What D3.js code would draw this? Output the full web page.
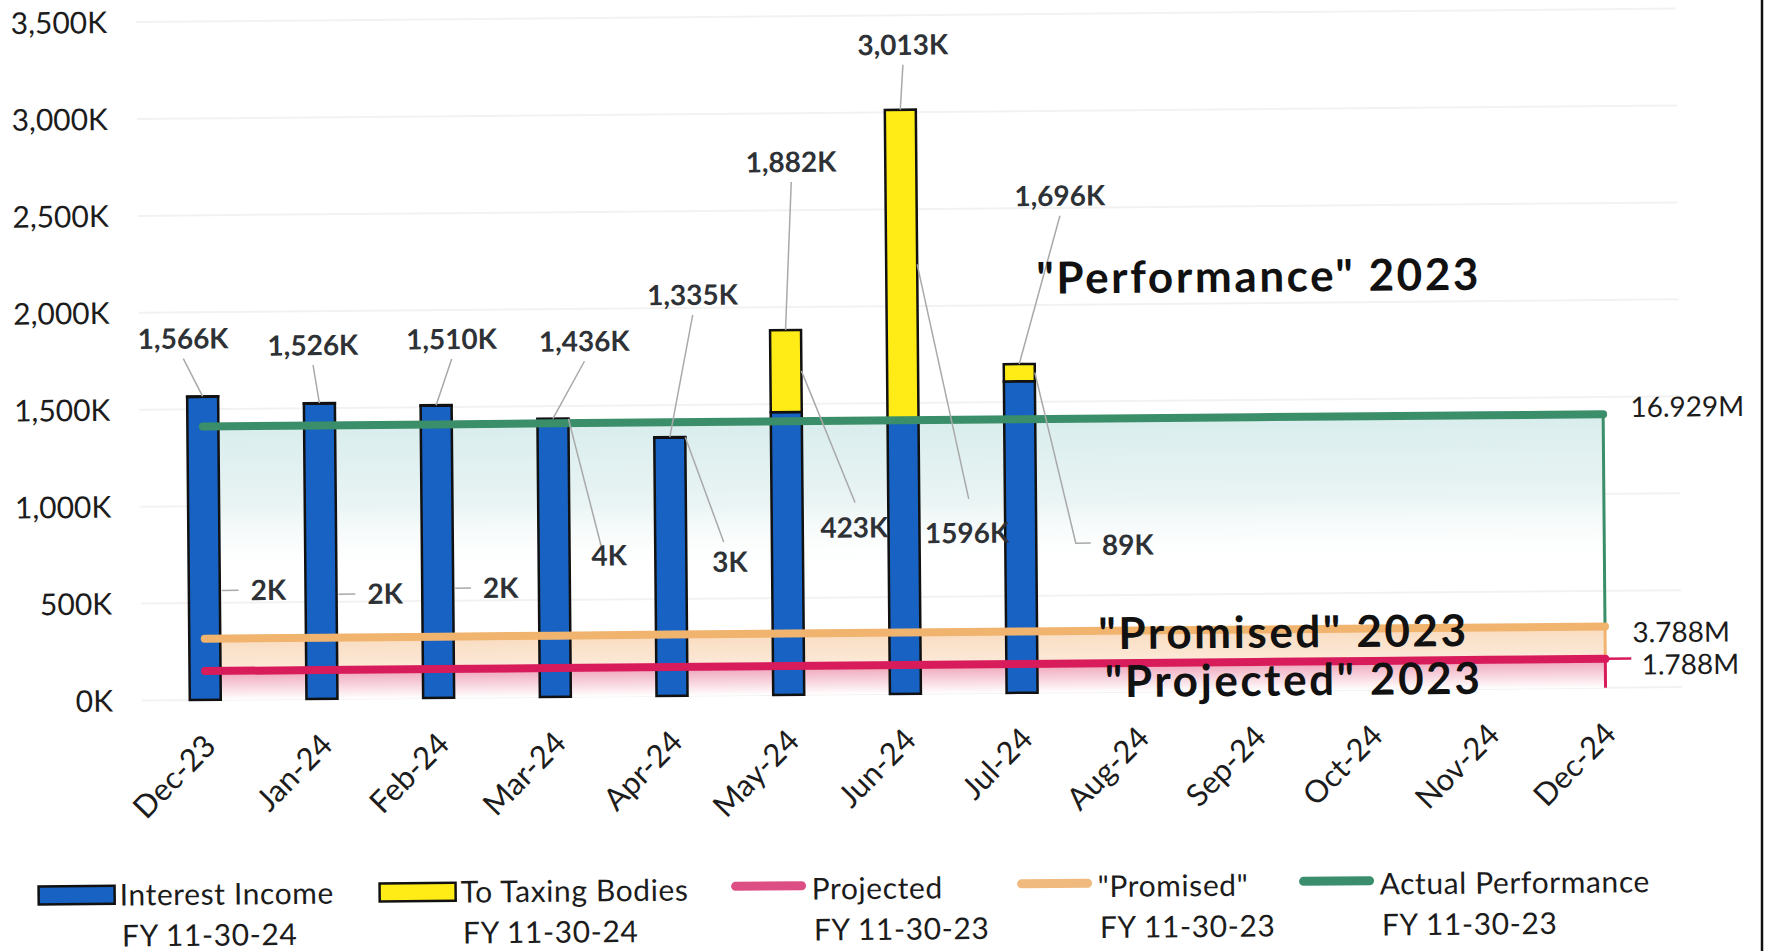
<!DOCTYPE html>
<html>
<head>
<meta charset="utf-8">
<script src="https://cdn.jsdelivr.net/npm/d3@7"></script>
<style>
  html, body { margin: 0; padding: 0; background: #fff; }
  svg { display: block; font-family: Lato, "Open Sans", sans-serif; }
</style>
</head>
<body>
<svg id="chart" width="1773" height="951"></svg>
<script>
// values in thousands of dollars
const months = ['Dec-23', 'Jan-24', 'Feb-24', 'Mar-24', 'Apr-24', 'May-24', 'Jun-24',
  'Jul-24', 'Aug-24', 'Sep-24', 'Oct-24', 'Nov-24', 'Dec-24'];
const interestIncome = [1564, 1524, 1508, 1432, 1332, 1459, 1417, 1607];
const toTaxingBodies = [2, 2, 2, 4, 3, 423, 1596, 89];
const projected = [149, 149, 149, 149, 149, 149, 149, 149, 149, 149, 149, 149, 149];
const promised = [316, 316, 316, 316, 316, 316, 316, 316, 316, 316, 316, 316, 316];
const actualPerf = [1411, 1411, 1411, 1411, 1411, 1411, 1411, 1411, 1411, 1411, 1411, 1411, 1411];
const lineTotals = ['1.788M', '3.788M', '16.929M'];
const yTicks = [0, 500, 1000, 1500, 2000, 2500, 3000, 3500];

// hand-placed data label spots (like dragged Excel labels)
const topLabelOffsets = [[-19, -58], [-6, -58], [16, -66], [32, -77], [24, -142], [7, -168], [3, -65], [42, -168]];
const lowerLabelSpots = [
  {dx: 64, dy: 194, dash: true},
  {dx: 64, dy: 191, dash: true},
  {dx: 63, dy: 183, dash: true},
  {dx: 55, dy: 137, end: [-8, -10]},
  {dx: 59, dy: 125, end: [-6, -20]},
  {dx: 67, dy: 157, end: [1, -25]},
  {dx: 63, dy: 269, end: [2, -34]},
  {dx: 107, dy: 173, end: [-52, -2], tail: [-37, -2]}
];

const svg = d3.select('#chart');
// the source is a slightly tilted scan
const root = svg.append('g').attr('transform', 'rotate(-0.5,886,475)');

const x = d3.scaleBand().domain(months).range([145, 1662]);
const cx = m => x(m) + x.bandwidth() / 2;
const y = d3.scaleLinear().domain([0, 3500]).range([694, 15.5]);
const barW = 31;
const fmtK = d3.format(',');

// gradients
const defs = svg.append('defs');
function grad(id, stops) {
  let g = defs.append('linearGradient').attr('id', id)
    .attr('x1', 0).attr('y1', 0).attr('x2', 0).attr('y2', 1);
  stops.forEach(s => g.append('stop').attr('offset', s[0]).attr('stop-color', s[1]).attr('stop-opacity', s[2]));
}
grad('gActual', [[0, '#d9eded', 1], [0.3, '#eaf4f4', 1], [0.55, '#ffffff', 0]]);
grad('gPromised', [[0, '#f9dcc0', 1], [1, '#fff7f1', 1]]);
grad('gProjected', [[0, '#eea2b8', 1], [0.85, '#fdf1f4', 1], [1, '#ffffff', 1]]);

// gridlines
root.selectAll('line.grid')
  .data(yTicks)
  .enter().append('line')
  .attr('class', 'grid')
  .attr('x1', 140).attr('x2', 1680)
  .attr('y1', d => y(d)).attr('y2', d => y(d))
  .attr('stroke', '#f2f2f2')
  .attr('stroke-width', 2);

// y axis labels
root.selectAll('text.ytick')
  .data(yTicks)
  .enter().append('text')
  .attr('class', 'ytick')
  .attr('x', 111)
  .attr('y', d => y(d))
  .attr('dy', '0.36em')
  .attr('text-anchor', 'end')
  .style('font-size', '30px')
  .style('fill', '#1c1c1c')
  .text(d => fmtK(d) + 'K');

// x axis labels
root.selectAll('text.xtick')
  .data(months)
  .enter().append('text')
  .attr('class', 'xtick')
  .attr('transform', d => 'translate(' + (cx(d) + 12) + ',742) rotate(-45)')
  .attr('text-anchor', 'end')
  .style('font-size', '31px')
  .style('fill', '#1c1c1c')
  .text(d => d);

// area fills behind the bars
const lineSeries = [
  {name: 'actual', values: actualPerf, color: '#3a8e69', fill: 'url(#gActual)', total: lineTotals[2], next: promised, ldy: -7, lx: 1631},
  {name: 'promised', values: promised, color: '#f1b46e', fill: 'url(#gPromised)', total: lineTotals[1], next: projected, ldy: 6, lx: 1631},
  {name: 'projected', values: projected, color: '#d81b5a', fill: 'url(#gProjected)', total: lineTotals[0], next: null, ldy: 6, lx: 1640}
];
const area = d3.area()
  .x((d, i) => cx(months[i]))
  .y0(y(0))
  .y1(d => y(d));
root.selectAll('path.area')
  .data(lineSeries)
  .enter().append('path')
  .attr('class', 'area')
  .attr('d', d => area(d.values))
  .attr('fill', d => d.fill);

// stacked bars
const table = interestIncome.map((v, i) => ({month: months[i], interest: v, taxing: toTaxingBodies[i]}));
const stack = d3.stack().keys(['interest', 'taxing'])(table);
const barColors = {interest: '#1762c2', taxing: '#ffec17'};
root.selectAll('g.layer')
  .data(stack)
  .enter().append('g')
  .attr('class', 'layer')
  .attr('fill', d => barColors[d.key])
  .selectAll('rect')
  .data(d => d)
  .enter().append('rect')
  .attr('x', d => cx(d.data.month) - barW / 2)
  .attr('y', d => y(d[1]))
  .attr('width', barW)
  .attr('height', d => y(d[0]) - y(d[1]))
  .attr('stroke', '#111')
  .attr('stroke-width', 2.5);

// line strokes in front of the bars
const line = d3.line().x((d, i) => cx(months[i])).y(d => y(d));
const last = months[months.length - 1];
lineSeries.forEach(s => {
  let yEnd = y(s.values[s.values.length - 1]);
  let yBottom = s.next ? y(s.next[s.next.length - 1]) : y(0);
  root.append('line')
    .attr('x1', cx(last)).attr('x2', cx(last))
    .attr('y1', yEnd).attr('y2', yBottom)
    .attr('stroke', s.color).attr('stroke-width', 3);
  root.append('path')
    .attr('d', line(s.values))
    .attr('fill', 'none')
    .attr('stroke', s.color)
    .attr('stroke-width', 8)
    .attr('stroke-linecap', 'round');
  root.append('text')
    .attr('x', s.lx)
    .attr('y', yEnd + s.ldy)
    .attr('dy', '0.36em')
    .style('font-size', '28px')
    .style('fill', '#1c1c1c')
    .text(s.total);
});
root.append('line')
  .attr('x1', cx(last)).attr('x2', cx(last) + 26)
  .attr('y1', y(projected[12])).attr('y2', y(projected[12]))
  .attr('stroke', '#d81b5a').attr('stroke-width', 2.5);

// data labels with leader lines
const leaders = root.append('g')
  .attr('stroke', '#a9a9a9')
  .attr('stroke-width', 1.5)
  .attr('fill', 'none');
table.forEach((d, i) => {
  let c = cx(d.month), top = y(d.interest + d.taxing);
  let lx = c + topLabelOffsets[i][0], ly = top + topLabelOffsets[i][1];
  leaders.append('line')
    .attr('x1', lx).attr('y1', ly + 20)
    .attr('x2', c).attr('y2', top);
  root.append('text')
    .attr('x', lx).attr('y', ly).attr('dy', '0.36em')
    .attr('text-anchor', 'middle')
    .style('font-size', '28px').style('font-weight', 700)
    .style('fill', '#2e3236')
    .text(fmtK(d.interest + d.taxing) + 'K');

  let spot = lowerLabelSpots[i];
  let mid = (y(d.interest) + top) / 2;
  lx = c + spot.dx;
  ly = mid + spot.dy;
  let t = root.append('text')
    .attr('x', lx).attr('y', ly).attr('dy', '0.36em')
    .attr('text-anchor', 'middle')
    .style('font-size', '28px').style('font-weight', 700)
    .style('fill', '#2e3236')
    .text(d.taxing + 'K');
  let w = t.node().getComputedTextLength();
  if (spot.dash) {
    leaders.append('line')
      .attr('x1', c + barW / 2 + 2).attr('y1', ly)
      .attr('x2', lx - w / 2 - 12).attr('y2', ly);
  } else {
    let pts = [[c + barW / 2, mid], [lx + spot.end[0], ly + spot.end[1]]];
    if (spot.tail) pts.push([lx + spot.tail[0], ly + spot.tail[1]]);
    leaders.append('path').attr('d', d3.line()(pts));
  }
});

// annotations
const notes = [
  {text: '"Performance" 2023', x: 1038, y: 295},
  {text: '"Promised" 2023', x: 1097, y: 651},
  {text: '"Projected" 2023', x: 1103, y: 699}
];
root.selectAll('text.note')
  .data(notes)
  .enter().append('text')
  .attr('class', 'note')
  .attr('x', d => d.x).attr('y', d => d.y)
  .style('font-size', '44px').style('font-weight', 700)
  .style('letter-spacing', '2.6px')
  .style('fill', '#111')
  .text(d => d.text);

// legend
const legendItems = [
  {name: 'Interest Income', sub: 'FY 11-30-24', type: 'rect', color: '#1762c2', x: 35},
  {name: 'To Taxing Bodies', sub: 'FY 11-30-24', type: 'rect', color: '#ffec17', x: 376},
  {name: 'Projected', sub: 'FY 11-30-23', type: 'line', color: '#dd4f84', x: 727},
  {name: '"Promised"', sub: 'FY 11-30-23', type: 'line', color: '#f0b97e', x: 1013},
  {name: 'Actual Performance', sub: 'FY 11-30-23', type: 'line', color: '#3a8e6e', x: 1295}
];
const lg = root.selectAll('g.legend')
  .data(legendItems)
  .enter().append('g')
  .attr('class', 'legend')
  .attr('transform', d => 'translate(' + d.x + ',888)');
lg.filter(d => d.type === 'rect').append('rect')
  .attr('x', 0).attr('y', -9).attr('width', 76).attr('height', 18)
  .attr('fill', d => d.color).attr('stroke', '#111').attr('stroke-width', 2.5);
lg.filter(d => d.type === 'line').append('line')
  .attr('x1', 5).attr('x2', 71).attr('y1', -3).attr('y2', -3)
  .attr('stroke', d => d.color).attr('stroke-width', 9).attr('stroke-linecap', 'round');
lg.append('text')
  .attr('x', 81).attr('y', 0).attr('dy', '0.36em')
  .style('font-size', '30px').style('letter-spacing', '0.6px')
  .style('fill', '#1c1c1c')
  .text(d => d.name);
lg.append('text')
  .attr('x', 83).attr('y', 41).attr('dy', '0.36em')
  .style('font-size', '30px').style('letter-spacing', '0.6px')
  .style('fill', '#1c1c1c')
  .text(d => d.sub);

// page edge from the scan
svg.append('line')
  .attr('x1', 1762).attr('x2', 1762).attr('y1', 0).attr('y2', 951)
  .attr('stroke', '#111').attr('stroke-width', 2.5);
</script>
</body>
</html>
